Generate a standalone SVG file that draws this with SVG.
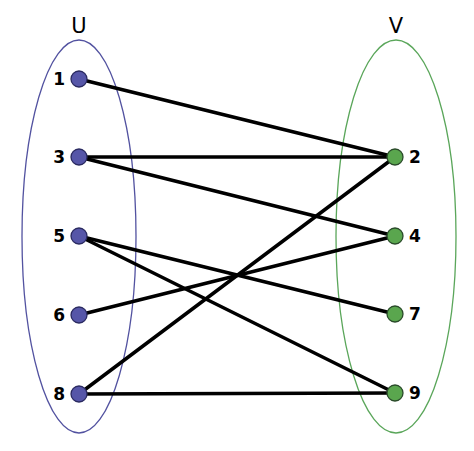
<svg xmlns="http://www.w3.org/2000/svg" width="474" height="451" viewBox="0 0 474 451">
<style>
.set{fill:none;stroke-width:1.3}
.edge{stroke:#000;stroke-width:3.5;stroke-linecap:round}
.u{fill:#5656a8;stroke:#2a2a60;stroke-width:1.3}
.v{fill:#5aa64e;stroke:#2a4a2a;stroke-width:1.3}
.lbl{font-family:"DejaVu Sans",Verdana,sans-serif;font-weight:bold;font-size:17px;fill:#000}
.title{font-family:"DejaVu Sans",Verdana,sans-serif;font-size:21px;fill:#000;text-anchor:middle}
</style>
<rect width="474" height="451" fill="#fff"/>
<g id="setU">
<ellipse class="set" cx="79" cy="236.5" rx="57" ry="196.5" stroke="#5252a0"/>
<text class="title" x="79" y="33">U</text>
</g>
<g id="setV">
<ellipse class="set" cx="396" cy="236.5" rx="60" ry="196.5" stroke="#5aa65a"/>
<text class="title" x="396" y="33">V</text>
</g>
<g id="edges">
<line class="edge" x1="79" y1="79" x2="395" y2="157"/>
<line class="edge" x1="79" y1="157" x2="395" y2="157"/>
<line class="edge" x1="79" y1="157" x2="395" y2="236"/>
<line class="edge" x1="79" y1="236" x2="395" y2="314"/>
<line class="edge" x1="79" y1="236" x2="395" y2="393"/>
<line class="edge" x1="79" y1="315" x2="395" y2="236"/>
<line class="edge" x1="79" y1="394" x2="395" y2="157"/>
<line class="edge" x1="79" y1="394" x2="395" y2="393"/>
</g>
<g id="n1"><circle class="u" cx="79" cy="79" r="8"/><text class="lbl" x="65" y="85" text-anchor="end">1</text></g>
<g id="n3"><circle class="u" cx="79" cy="157" r="8"/><text class="lbl" x="65" y="163" text-anchor="end">3</text></g>
<g id="n5"><circle class="u" cx="79" cy="236" r="8"/><text class="lbl" x="65" y="242" text-anchor="end">5</text></g>
<g id="n6"><circle class="u" cx="79" cy="315" r="8"/><text class="lbl" x="65" y="321" text-anchor="end">6</text></g>
<g id="n8"><circle class="u" cx="79" cy="394" r="8"/><text class="lbl" x="65" y="400" text-anchor="end">8</text></g>
<g id="n2"><circle class="v" cx="395" cy="157" r="8"/><text class="lbl" x="409" y="163">2</text></g>
<g id="n4"><circle class="v" cx="395" cy="236" r="8"/><text class="lbl" x="409" y="242">4</text></g>
<g id="n7"><circle class="v" cx="395" cy="314" r="8"/><text class="lbl" x="409" y="320">7</text></g>
<g id="n9"><circle class="v" cx="395" cy="393" r="8"/><text class="lbl" x="409" y="399">9</text></g>
</svg>
